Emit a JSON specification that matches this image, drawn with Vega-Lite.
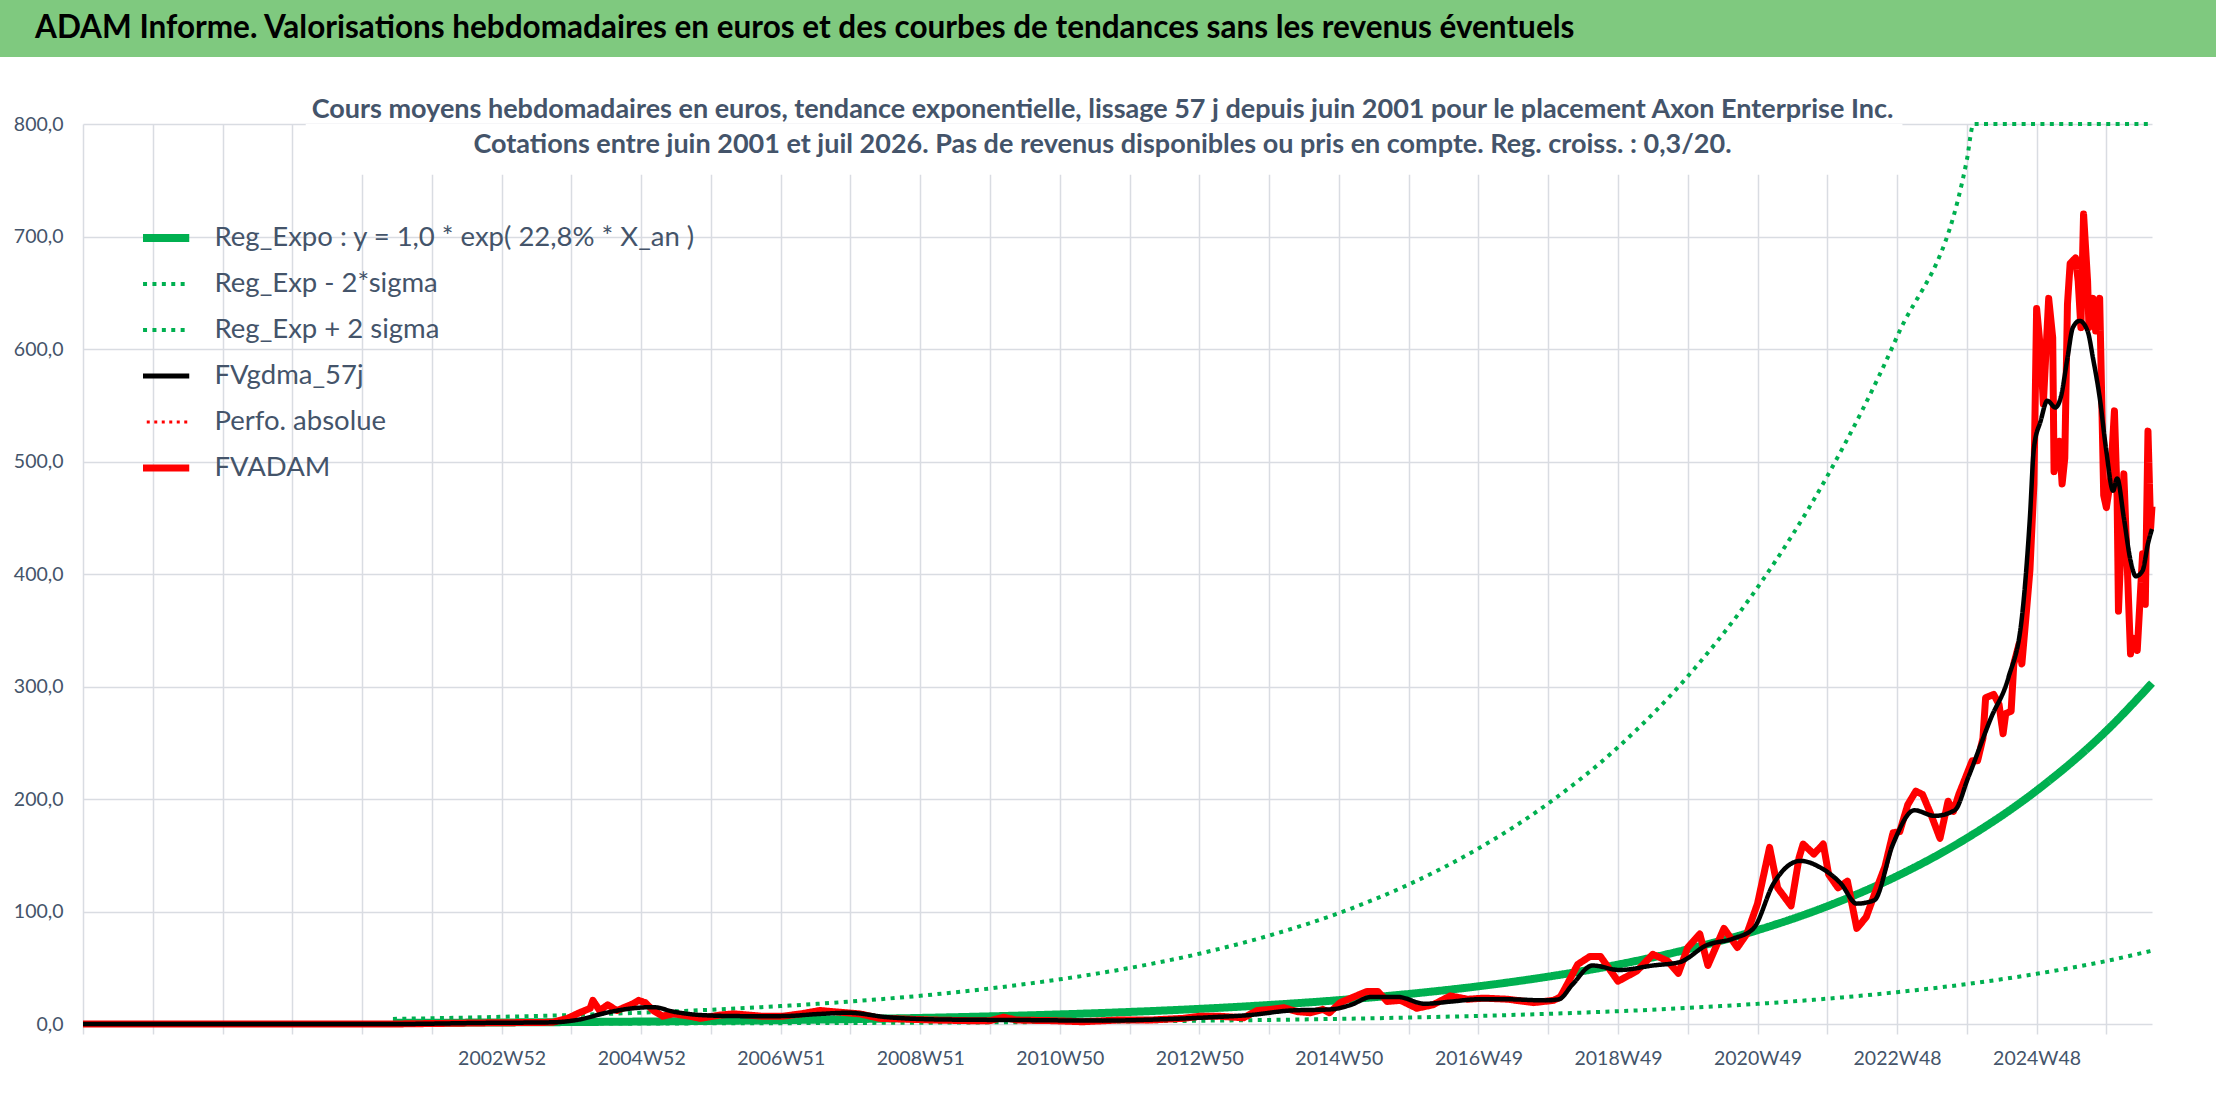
{
  "$schema": "https://vega.github.io/schema/vega-lite/v6.json",
  "padding": 0,
  "background": "white",
  "spacing": 38,
  "config": {
    "font": "Lato",
    "view": {"stroke": null},
    "axis": {
      "gridColor": "#D9DCE2",
      "gridWidth": 1.5,
      "labelColor": "#44546A",
      "labelFontSize": 19.5,
      "domain": false,
      "title": null
    }
  },
  "resolve": {"scale": {"color": "independent", "strokeDash": "independent"}},
  "datasets": {
    "tendances": [
      {"semaine": 231, "valeur": 1.0, "serie": "Reg_Expo : y = 1,0 * exp( 22,8% *  X_an )"},
      {"semaine": 260, "valeur": 1.1, "serie": "Reg_Expo : y = 1,0 * exp( 22,8% *  X_an )"},
      {"semaine": 312, "valeur": 1.38, "serie": "Reg_Expo : y = 1,0 * exp( 22,8% *  X_an )"},
      {"semaine": 364, "valeur": 1.73, "serie": "Reg_Expo : y = 1,0 * exp( 22,8% *  X_an )"},
      {"semaine": 416, "valeur": 2.17, "serie": "Reg_Expo : y = 1,0 * exp( 22,8% *  X_an )"},
      {"semaine": 468, "valeur": 2.73, "serie": "Reg_Expo : y = 1,0 * exp( 22,8% *  X_an )"},
      {"semaine": 520, "valeur": 3.43, "serie": "Reg_Expo : y = 1,0 * exp( 22,8% *  X_an )"},
      {"semaine": 572, "valeur": 4.3, "serie": "Reg_Expo : y = 1,0 * exp( 22,8% *  X_an )"},
      {"semaine": 624, "valeur": 5.4, "serie": "Reg_Expo : y = 1,0 * exp( 22,8% *  X_an )"},
      {"semaine": 676, "valeur": 6.79, "serie": "Reg_Expo : y = 1,0 * exp( 22,8% *  X_an )"},
      {"semaine": 728, "valeur": 8.53, "serie": "Reg_Expo : y = 1,0 * exp( 22,8% *  X_an )"},
      {"semaine": 780, "valeur": 10.71, "serie": "Reg_Expo : y = 1,0 * exp( 22,8% *  X_an )"},
      {"semaine": 832, "valeur": 13.45, "serie": "Reg_Expo : y = 1,0 * exp( 22,8% *  X_an )"},
      {"semaine": 884, "valeur": 16.9, "serie": "Reg_Expo : y = 1,0 * exp( 22,8% *  X_an )"},
      {"semaine": 936, "valeur": 21.2, "serie": "Reg_Expo : y = 1,0 * exp( 22,8% *  X_an )"},
      {"semaine": 988, "valeur": 26.7, "serie": "Reg_Expo : y = 1,0 * exp( 22,8% *  X_an )"},
      {"semaine": 1040, "valeur": 33.5, "serie": "Reg_Expo : y = 1,0 * exp( 22,8% *  X_an )"},
      {"semaine": 1092, "valeur": 42.1, "serie": "Reg_Expo : y = 1,0 * exp( 22,8% *  X_an )"},
      {"semaine": 1144, "valeur": 52.8, "serie": "Reg_Expo : y = 1,0 * exp( 22,8% *  X_an )"},
      {"semaine": 1196, "valeur": 66.4, "serie": "Reg_Expo : y = 1,0 * exp( 22,8% *  X_an )"},
      {"semaine": 1248, "valeur": 83.4, "serie": "Reg_Expo : y = 1,0 * exp( 22,8% *  X_an )"},
      {"semaine": 1300, "valeur": 104.7, "serie": "Reg_Expo : y = 1,0 * exp( 22,8% *  X_an )"},
      {"semaine": 1352, "valeur": 131.5, "serie": "Reg_Expo : y = 1,0 * exp( 22,8% *  X_an )"},
      {"semaine": 1404, "valeur": 165.2, "serie": "Reg_Expo : y = 1,0 * exp( 22,8% *  X_an )"},
      {"semaine": 1456, "valeur": 207.5, "serie": "Reg_Expo : y = 1,0 * exp( 22,8% *  X_an )"},
      {"semaine": 1508, "valeur": 260.6, "serie": "Reg_Expo : y = 1,0 * exp( 22,8% *  X_an )"},
      {"semaine": 1542, "valeur": 303, "serie": "Reg_Expo : y = 1,0 * exp( 22,8% *  X_an )"},
      {"semaine": 231, "valeur": 0.21, "serie": "Reg_Exp - 2*sigma"},
      {"semaine": 260, "valeur": 0.24, "serie": "Reg_Exp - 2*sigma"},
      {"semaine": 312, "valeur": 0.3, "serie": "Reg_Exp - 2*sigma"},
      {"semaine": 364, "valeur": 0.37, "serie": "Reg_Exp - 2*sigma"},
      {"semaine": 416, "valeur": 0.47, "serie": "Reg_Exp - 2*sigma"},
      {"semaine": 468, "valeur": 0.59, "serie": "Reg_Exp - 2*sigma"},
      {"semaine": 520, "valeur": 0.74, "serie": "Reg_Exp - 2*sigma"},
      {"semaine": 572, "valeur": 0.92, "serie": "Reg_Exp - 2*sigma"},
      {"semaine": 624, "valeur": 1.16, "serie": "Reg_Exp - 2*sigma"},
      {"semaine": 676, "valeur": 1.46, "serie": "Reg_Exp - 2*sigma"},
      {"semaine": 728, "valeur": 1.83, "serie": "Reg_Exp - 2*sigma"},
      {"semaine": 780, "valeur": 2.3, "serie": "Reg_Exp - 2*sigma"},
      {"semaine": 832, "valeur": 2.89, "serie": "Reg_Exp - 2*sigma"},
      {"semaine": 884, "valeur": 3.63, "serie": "Reg_Exp - 2*sigma"},
      {"semaine": 936, "valeur": 4.56, "serie": "Reg_Exp - 2*sigma"},
      {"semaine": 988, "valeur": 5.74, "serie": "Reg_Exp - 2*sigma"},
      {"semaine": 1040, "valeur": 7.2, "serie": "Reg_Exp - 2*sigma"},
      {"semaine": 1092, "valeur": 9.05, "serie": "Reg_Exp - 2*sigma"},
      {"semaine": 1144, "valeur": 11.35, "serie": "Reg_Exp - 2*sigma"},
      {"semaine": 1196, "valeur": 14.28, "serie": "Reg_Exp - 2*sigma"},
      {"semaine": 1248, "valeur": 17.9, "serie": "Reg_Exp - 2*sigma"},
      {"semaine": 1300, "valeur": 22.5, "serie": "Reg_Exp - 2*sigma"},
      {"semaine": 1352, "valeur": 28.3, "serie": "Reg_Exp - 2*sigma"},
      {"semaine": 1404, "valeur": 35.5, "serie": "Reg_Exp - 2*sigma"},
      {"semaine": 1456, "valeur": 44.6, "serie": "Reg_Exp - 2*sigma"},
      {"semaine": 1508, "valeur": 56, "serie": "Reg_Exp - 2*sigma"},
      {"semaine": 1542, "valeur": 65.2, "serie": "Reg_Exp - 2*sigma"},
      {"semaine": 231, "valeur": 4.5, "serie": "Reg_Exp + 2 sigma"},
      {"semaine": 260, "valeur": 5.1, "serie": "Reg_Exp + 2 sigma"},
      {"semaine": 312, "valeur": 6.4, "serie": "Reg_Exp + 2 sigma"},
      {"semaine": 364, "valeur": 8.0, "serie": "Reg_Exp + 2 sigma"},
      {"semaine": 416, "valeur": 10.1, "serie": "Reg_Exp + 2 sigma"},
      {"semaine": 468, "valeur": 12.7, "serie": "Reg_Exp + 2 sigma"},
      {"semaine": 520, "valeur": 15.9, "serie": "Reg_Exp + 2 sigma"},
      {"semaine": 572, "valeur": 20, "serie": "Reg_Exp + 2 sigma"},
      {"semaine": 624, "valeur": 25.1, "serie": "Reg_Exp + 2 sigma"},
      {"semaine": 676, "valeur": 31.6, "serie": "Reg_Exp + 2 sigma"},
      {"semaine": 728, "valeur": 39.7, "serie": "Reg_Exp + 2 sigma"},
      {"semaine": 780, "valeur": 49.8, "serie": "Reg_Exp + 2 sigma"},
      {"semaine": 832, "valeur": 62.5, "serie": "Reg_Exp + 2 sigma"},
      {"semaine": 884, "valeur": 78.6, "serie": "Reg_Exp + 2 sigma"},
      {"semaine": 936, "valeur": 98.6, "serie": "Reg_Exp + 2 sigma"},
      {"semaine": 988, "valeur": 124, "serie": "Reg_Exp + 2 sigma"},
      {"semaine": 1040, "valeur": 156, "serie": "Reg_Exp + 2 sigma"},
      {"semaine": 1092, "valeur": 196, "serie": "Reg_Exp + 2 sigma"},
      {"semaine": 1144, "valeur": 246, "serie": "Reg_Exp + 2 sigma"},
      {"semaine": 1196, "valeur": 309, "serie": "Reg_Exp + 2 sigma"},
      {"semaine": 1248, "valeur": 388, "serie": "Reg_Exp + 2 sigma"},
      {"semaine": 1300, "valeur": 487, "serie": "Reg_Exp + 2 sigma"},
      {"semaine": 1352, "valeur": 611, "serie": "Reg_Exp + 2 sigma"},
      {"semaine": 1404, "valeur": 768, "serie": "Reg_Exp + 2 sigma"},
      {"semaine": 1409, "valeur": 800, "serie": "Reg_Exp + 2 sigma"},
      {"semaine": 1456, "valeur": 800, "serie": "Reg_Exp + 2 sigma"},
      {"semaine": 1508, "valeur": 800, "serie": "Reg_Exp + 2 sigma"},
      {"semaine": 1540, "valeur": 800, "serie": "Reg_Exp + 2 sigma"}
    ],
    "fvadam": [
      {"semaine": 0, "valeur": 0, "serie": "FVADAM"},
      {"semaine": 231, "valeur": 0, "serie": "FVADAM"},
      {"semaine": 300, "valeur": 1, "serie": "FVADAM"},
      {"semaine": 350, "valeur": 1.5, "serie": "FVADAM"},
      {"semaine": 361, "valeur": 5, "serie": "FVADAM"},
      {"semaine": 370, "valeur": 10, "serie": "FVADAM"},
      {"semaine": 378, "valeur": 14, "serie": "FVADAM"},
      {"semaine": 380, "valeur": 21, "serie": "FVADAM"},
      {"semaine": 385, "valeur": 12, "serie": "FVADAM"},
      {"semaine": 391, "valeur": 17, "serie": "FVADAM"},
      {"semaine": 398, "valeur": 12, "serie": "FVADAM"},
      {"semaine": 406, "valeur": 16, "serie": "FVADAM"},
      {"semaine": 410, "valeur": 18, "serie": "FVADAM"},
      {"semaine": 414, "valeur": 21, "serie": "FVADAM"},
      {"semaine": 419, "valeur": 19, "serie": "FVADAM"},
      {"semaine": 425, "valeur": 12, "serie": "FVADAM"},
      {"semaine": 432, "valeur": 7, "serie": "FVADAM"},
      {"semaine": 440, "valeur": 9, "serie": "FVADAM"},
      {"semaine": 452, "valeur": 7, "serie": "FVADAM"},
      {"semaine": 460, "valeur": 5, "serie": "FVADAM"},
      {"semaine": 475, "valeur": 8, "serie": "FVADAM"},
      {"semaine": 485, "valeur": 9, "serie": "FVADAM"},
      {"semaine": 505, "valeur": 7, "serie": "FVADAM"},
      {"semaine": 522, "valeur": 7, "serie": "FVADAM"},
      {"semaine": 535, "valeur": 9, "serie": "FVADAM"},
      {"semaine": 549, "valeur": 12, "serie": "FVADAM"},
      {"semaine": 559, "valeur": 11, "serie": "FVADAM"},
      {"semaine": 569, "valeur": 10, "serie": "FVADAM"},
      {"semaine": 579, "valeur": 9, "serie": "FVADAM"},
      {"semaine": 594, "valeur": 5, "serie": "FVADAM"},
      {"semaine": 609, "valeur": 4.5, "serie": "FVADAM"},
      {"semaine": 634, "valeur": 3.5, "serie": "FVADAM"},
      {"semaine": 659, "valeur": 3, "serie": "FVADAM"},
      {"semaine": 676, "valeur": 3, "serie": "FVADAM"},
      {"semaine": 686, "valeur": 6, "serie": "FVADAM"},
      {"semaine": 696, "valeur": 3.5, "serie": "FVADAM"},
      {"semaine": 721, "valeur": 3, "serie": "FVADAM"},
      {"semaine": 745, "valeur": 2, "serie": "FVADAM"},
      {"semaine": 771, "valeur": 3.5, "serie": "FVADAM"},
      {"semaine": 795, "valeur": 3.5, "serie": "FVADAM"},
      {"semaine": 820, "valeur": 5, "serie": "FVADAM"},
      {"semaine": 833, "valeur": 7, "serie": "FVADAM"},
      {"semaine": 845, "valeur": 7, "serie": "FVADAM"},
      {"semaine": 865, "valeur": 5.5, "serie": "FVADAM"},
      {"semaine": 875, "valeur": 12, "serie": "FVADAM"},
      {"semaine": 885, "valeur": 13, "serie": "FVADAM"},
      {"semaine": 895, "valeur": 14.5, "serie": "FVADAM"},
      {"semaine": 905, "valeur": 11, "serie": "FVADAM"},
      {"semaine": 915, "valeur": 10, "serie": "FVADAM"},
      {"semaine": 924, "valeur": 13, "serie": "FVADAM"},
      {"semaine": 929, "valeur": 10, "serie": "FVADAM"},
      {"semaine": 937, "valeur": 19, "serie": "FVADAM"},
      {"semaine": 945, "valeur": 23, "serie": "FVADAM"},
      {"semaine": 957, "valeur": 29, "serie": "FVADAM"},
      {"semaine": 965, "valeur": 29, "serie": "FVADAM"},
      {"semaine": 972, "valeur": 20, "serie": "FVADAM"},
      {"semaine": 982, "valeur": 21, "serie": "FVADAM"},
      {"semaine": 994, "valeur": 14, "serie": "FVADAM"},
      {"semaine": 1006, "valeur": 17, "serie": "FVADAM"},
      {"semaine": 1019, "valeur": 25, "serie": "FVADAM"},
      {"semaine": 1032, "valeur": 22, "serie": "FVADAM"},
      {"semaine": 1044, "valeur": 23, "serie": "FVADAM"},
      {"semaine": 1062, "valeur": 22, "serie": "FVADAM"},
      {"semaine": 1081, "valeur": 19, "serie": "FVADAM"},
      {"semaine": 1096, "valeur": 21, "serie": "FVADAM"},
      {"semaine": 1101, "valeur": 24, "serie": "FVADAM"},
      {"semaine": 1106, "valeur": 35, "serie": "FVADAM"},
      {"semaine": 1114, "valeur": 53, "serie": "FVADAM"},
      {"semaine": 1123, "valeur": 60, "serie": "FVADAM"},
      {"semaine": 1131, "valeur": 60, "serie": "FVADAM"},
      {"semaine": 1144, "valeur": 38, "serie": "FVADAM"},
      {"semaine": 1158, "valeur": 47, "serie": "FVADAM"},
      {"semaine": 1170, "valeur": 62, "serie": "FVADAM"},
      {"semaine": 1181, "valeur": 56, "serie": "FVADAM"},
      {"semaine": 1189, "valeur": 45, "serie": "FVADAM"},
      {"semaine": 1196, "valeur": 68, "serie": "FVADAM"},
      {"semaine": 1205, "valeur": 80, "serie": "FVADAM"},
      {"semaine": 1211, "valeur": 52, "serie": "FVADAM"},
      {"semaine": 1223, "valeur": 85, "serie": "FVADAM"},
      {"semaine": 1233, "valeur": 68, "serie": "FVADAM"},
      {"semaine": 1240, "valeur": 80, "serie": "FVADAM"},
      {"semaine": 1248, "valeur": 107, "serie": "FVADAM"},
      {"semaine": 1257, "valeur": 157, "serie": "FVADAM"},
      {"semaine": 1263, "valeur": 121, "serie": "FVADAM"},
      {"semaine": 1273, "valeur": 105, "serie": "FVADAM"},
      {"semaine": 1279, "valeur": 148, "serie": "FVADAM"},
      {"semaine": 1282, "valeur": 160, "serie": "FVADAM"},
      {"semaine": 1290, "valeur": 151, "serie": "FVADAM"},
      {"semaine": 1297, "valeur": 160, "serie": "FVADAM"},
      {"semaine": 1301, "valeur": 133, "serie": "FVADAM"},
      {"semaine": 1308, "valeur": 121, "serie": "FVADAM"},
      {"semaine": 1315, "valeur": 127, "serie": "FVADAM"},
      {"semaine": 1322, "valeur": 85, "serie": "FVADAM"},
      {"semaine": 1329, "valeur": 95, "serie": "FVADAM"},
      {"semaine": 1336, "valeur": 118, "serie": "FVADAM"},
      {"semaine": 1343, "valeur": 140, "serie": "FVADAM"},
      {"semaine": 1349, "valeur": 170, "serie": "FVADAM"},
      {"semaine": 1354, "valeur": 171, "serie": "FVADAM"},
      {"semaine": 1360, "valeur": 195, "serie": "FVADAM"},
      {"semaine": 1366, "valeur": 207, "serie": "FVADAM"},
      {"semaine": 1371, "valeur": 204, "serie": "FVADAM"},
      {"semaine": 1377, "valeur": 187, "serie": "FVADAM"},
      {"semaine": 1384, "valeur": 165, "serie": "FVADAM"},
      {"semaine": 1390, "valeur": 198, "serie": "FVADAM"},
      {"semaine": 1394, "valeur": 189, "serie": "FVADAM"},
      {"semaine": 1398, "valeur": 204, "serie": "FVADAM"},
      {"semaine": 1405, "valeur": 225, "serie": "FVADAM"},
      {"semaine": 1408, "valeur": 234, "serie": "FVADAM"},
      {"semaine": 1412, "valeur": 234, "serie": "FVADAM"},
      {"semaine": 1416, "valeur": 254, "serie": "FVADAM"},
      {"semaine": 1418, "valeur": 290, "serie": "FVADAM"},
      {"semaine": 1424, "valeur": 293, "serie": "FVADAM"},
      {"semaine": 1428, "valeur": 284, "serie": "FVADAM"},
      {"semaine": 1431, "valeur": 258, "serie": "FVADAM"},
      {"semaine": 1433, "valeur": 276, "serie": "FVADAM"},
      {"semaine": 1437, "valeur": 278, "serie": "FVADAM"},
      {"semaine": 1439, "valeur": 320, "serie": "FVADAM"},
      {"semaine": 1443, "valeur": 338, "serie": "FVADAM"},
      {"semaine": 1445, "valeur": 320, "serie": "FVADAM"},
      {"semaine": 1448, "valeur": 361, "serie": "FVADAM"},
      {"semaine": 1451, "valeur": 403, "serie": "FVADAM"},
      {"semaine": 1454, "valeur": 480, "serie": "FVADAM"},
      {"semaine": 1456, "valeur": 636, "serie": "FVADAM"},
      {"semaine": 1459, "valeur": 598, "serie": "FVADAM"},
      {"semaine": 1461, "valeur": 551, "serie": "FVADAM"},
      {"semaine": 1465, "valeur": 645, "serie": "FVADAM"},
      {"semaine": 1468, "valeur": 610, "serie": "FVADAM"},
      {"semaine": 1469, "valeur": 491, "serie": "FVADAM"},
      {"semaine": 1473, "valeur": 518, "serie": "FVADAM"},
      {"semaine": 1475, "valeur": 480, "serie": "FVADAM"},
      {"semaine": 1477, "valeur": 503, "serie": "FVADAM"},
      {"semaine": 1479, "valeur": 640, "serie": "FVADAM"},
      {"semaine": 1481, "valeur": 676, "serie": "FVADAM"},
      {"semaine": 1485, "valeur": 681, "serie": "FVADAM"},
      {"semaine": 1487, "valeur": 660, "serie": "FVADAM"},
      {"semaine": 1489, "valeur": 619, "serie": "FVADAM"},
      {"semaine": 1491, "valeur": 720, "serie": "FVADAM"},
      {"semaine": 1494, "valeur": 660, "serie": "FVADAM"},
      {"semaine": 1495, "valeur": 619, "serie": "FVADAM"},
      {"semaine": 1498, "valeur": 645, "serie": "FVADAM"},
      {"semaine": 1500, "valeur": 616, "serie": "FVADAM"},
      {"semaine": 1503, "valeur": 645, "serie": "FVADAM"},
      {"semaine": 1506, "valeur": 470, "serie": "FVADAM"},
      {"semaine": 1508, "valeur": 459, "serie": "FVADAM"},
      {"semaine": 1511, "valeur": 483, "serie": "FVADAM"},
      {"semaine": 1514, "valeur": 545, "serie": "FVADAM"},
      {"semaine": 1516, "valeur": 468, "serie": "FVADAM"},
      {"semaine": 1517, "valeur": 367, "serie": "FVADAM"},
      {"semaine": 1521, "valeur": 489, "serie": "FVADAM"},
      {"semaine": 1526, "valeur": 329, "serie": "FVADAM"},
      {"semaine": 1528, "valeur": 343, "serie": "FVADAM"},
      {"semaine": 1531, "valeur": 332, "serie": "FVADAM"},
      {"semaine": 1535, "valeur": 418, "serie": "FVADAM"},
      {"semaine": 1537, "valeur": 373, "serie": "FVADAM"},
      {"semaine": 1539, "valeur": 527, "serie": "FVADAM"},
      {"semaine": 1541, "valeur": 441, "serie": "FVADAM"},
      {"semaine": 1542, "valeur": 460, "serie": "FVADAM"}
    ],
    "fvgdma": [
      {"semaine": 0, "valeur": 0, "serie": "FVgdma_57j"},
      {"semaine": 231, "valeur": 0, "serie": "FVgdma_57j"},
      {"semaine": 300, "valeur": 1, "serie": "FVgdma_57j"},
      {"semaine": 350, "valeur": 1.5, "serie": "FVgdma_57j"},
      {"semaine": 370, "valeur": 4, "serie": "FVgdma_57j"},
      {"semaine": 390, "valeur": 10, "serie": "FVgdma_57j"},
      {"semaine": 410, "valeur": 14, "serie": "FVgdma_57j"},
      {"semaine": 425, "valeur": 15, "serie": "FVgdma_57j"},
      {"semaine": 440, "valeur": 11, "serie": "FVgdma_57j"},
      {"semaine": 460, "valeur": 8, "serie": "FVgdma_57j"},
      {"semaine": 490, "valeur": 7, "serie": "FVgdma_57j"},
      {"semaine": 520, "valeur": 7, "serie": "FVgdma_57j"},
      {"semaine": 550, "valeur": 9, "serie": "FVgdma_57j"},
      {"semaine": 570, "valeur": 10, "serie": "FVgdma_57j"},
      {"semaine": 600, "valeur": 6, "serie": "FVgdma_57j"},
      {"semaine": 640, "valeur": 4, "serie": "FVgdma_57j"},
      {"semaine": 700, "valeur": 3.5, "serie": "FVgdma_57j"},
      {"semaine": 760, "valeur": 3, "serie": "FVgdma_57j"},
      {"semaine": 800, "valeur": 4, "serie": "FVgdma_57j"},
      {"semaine": 840, "valeur": 6, "serie": "FVgdma_57j"},
      {"semaine": 870, "valeur": 8, "serie": "FVgdma_57j"},
      {"semaine": 900, "valeur": 12, "serie": "FVgdma_57j"},
      {"semaine": 930, "valeur": 13, "serie": "FVgdma_57j"},
      {"semaine": 945, "valeur": 17, "serie": "FVgdma_57j"},
      {"semaine": 960, "valeur": 24, "serie": "FVgdma_57j"},
      {"semaine": 980, "valeur": 24, "serie": "FVgdma_57j"},
      {"semaine": 1000, "valeur": 18, "serie": "FVgdma_57j"},
      {"semaine": 1020, "valeur": 20, "serie": "FVgdma_57j"},
      {"semaine": 1040, "valeur": 22, "serie": "FVgdma_57j"},
      {"semaine": 1060, "valeur": 22, "serie": "FVgdma_57j"},
      {"semaine": 1090, "valeur": 21, "serie": "FVgdma_57j"},
      {"semaine": 1100, "valeur": 22, "serie": "FVgdma_57j"},
      {"semaine": 1110, "valeur": 35, "serie": "FVgdma_57j"},
      {"semaine": 1125, "valeur": 52, "serie": "FVgdma_57j"},
      {"semaine": 1145, "valeur": 48, "serie": "FVgdma_57j"},
      {"semaine": 1170, "valeur": 52, "serie": "FVgdma_57j"},
      {"semaine": 1190, "valeur": 55, "serie": "FVgdma_57j"},
      {"semaine": 1210, "valeur": 70, "serie": "FVgdma_57j"},
      {"semaine": 1230, "valeur": 76, "serie": "FVgdma_57j"},
      {"semaine": 1245, "valeur": 85, "serie": "FVgdma_57j"},
      {"semaine": 1260, "valeur": 125, "serie": "FVgdma_57j"},
      {"semaine": 1280, "valeur": 145, "serie": "FVgdma_57j"},
      {"semaine": 1295, "valeur": 139, "serie": "FVgdma_57j"},
      {"semaine": 1310, "valeur": 125, "serie": "FVgdma_57j"},
      {"semaine": 1322, "valeur": 107, "serie": "FVgdma_57j"},
      {"semaine": 1335, "valeur": 110, "serie": "FVgdma_57j"},
      {"semaine": 1349, "valeur": 160, "serie": "FVgdma_57j"},
      {"semaine": 1365, "valeur": 190, "serie": "FVgdma_57j"},
      {"semaine": 1380, "valeur": 185, "serie": "FVgdma_57j"},
      {"semaine": 1395, "valeur": 190, "serie": "FVgdma_57j"},
      {"semaine": 1405, "valeur": 219, "serie": "FVgdma_57j"},
      {"semaine": 1422, "valeur": 272, "serie": "FVgdma_57j"},
      {"semaine": 1435, "valeur": 308, "serie": "FVgdma_57j"},
      {"semaine": 1445, "valeur": 361, "serie": "FVgdma_57j"},
      {"semaine": 1451, "valeur": 450, "serie": "FVgdma_57j"},
      {"semaine": 1454, "valeur": 512, "serie": "FVgdma_57j"},
      {"semaine": 1459, "valeur": 536, "serie": "FVgdma_57j"},
      {"semaine": 1464, "valeur": 554, "serie": "FVgdma_57j"},
      {"semaine": 1470, "valeur": 548, "serie": "FVgdma_57j"},
      {"semaine": 1474, "valeur": 557, "serie": "FVgdma_57j"},
      {"semaine": 1479, "valeur": 592, "serie": "FVgdma_57j"},
      {"semaine": 1483, "valeur": 619, "serie": "FVgdma_57j"},
      {"semaine": 1488, "valeur": 625, "serie": "FVgdma_57j"},
      {"semaine": 1494, "valeur": 616, "serie": "FVgdma_57j"},
      {"semaine": 1498, "valeur": 592, "serie": "FVgdma_57j"},
      {"semaine": 1503, "valeur": 557, "serie": "FVgdma_57j"},
      {"semaine": 1508, "valeur": 509, "serie": "FVgdma_57j"},
      {"semaine": 1513, "valeur": 474, "serie": "FVgdma_57j"},
      {"semaine": 1516, "valeur": 485, "serie": "FVgdma_57j"},
      {"semaine": 1521, "valeur": 450, "serie": "FVgdma_57j"},
      {"semaine": 1526, "valeur": 412, "serie": "FVgdma_57j"},
      {"semaine": 1530, "valeur": 398, "serie": "FVgdma_57j"},
      {"semaine": 1535, "valeur": 403, "serie": "FVgdma_57j"},
      {"semaine": 1539, "valeur": 427, "serie": "FVgdma_57j"},
      {"semaine": 1542, "valeur": 440, "serie": "FVgdma_57j"}
    ]
  },
  "vconcat": [
    {
      "width": 2133,
      "height": 57,
      "data": {"values": [{"texte": "ADAM Informe. Valorisations hebdomadaires en euros et des courbes de tendances sans les revenus éventuels"}]},
      "encoding": {
        "x": {"datum": 0, "type": "quantitative", "scale": {"domain": [83, 2216], "nice": false, "zero": false}, "axis": null},
        "y": {"datum": 0, "type": "quantitative", "scale": {"domain": [0, 1], "nice": false}, "axis": null}
      },
      "layer": [
        {
          "mark": {"type": "rect", "color": "#7FC97F"},
          "encoding": {
            "x2": {"datum": 2216},
            "y2": {"datum": 1}
          }
        },
        {
          "mark": {"type": "text", "align": "left", "baseline": "middle", "fontSize": 31.5, "fontWeight": "bold", "color": "#000000"},
          "encoding": {
            "text": {"field": "texte", "type": "nominal"},
            "x": {"datum": 35, "type": "quantitative"},
            "y": {"datum": 0.5, "type": "quantitative"}
          }
        }
      ]
    },
    {
      "width": 2069,
      "height": 900,
      "title": {
        "text": [
          "Cours moyens hebdomadaires en euros, tendance exponentielle, lissage 57 j depuis juin 2001 pour le placement Axon Enterprise Inc.",
          "Cotations entre juin 2001 et juil 2026. Pas de revenus disponibles ou pris en compte. Reg. croiss. : 0,3/20."
        ],
        "anchor": "middle",
        "frame": "group",
        "offset": -44.5,
        "dx": -15,
        "fontSize": 27,
        "fontWeight": "bold",
        "color": "#44546A",
        "lineHeight": 35
      },
      "layer": [
        {
          "data": {"values": [{}]},
          "mark": {"type": "rect", "color": "#FFFFFF"},
          "encoding": {
            "x": {
              "datum": 166,
              "type": "quantitative",
              "scale": {"domain": [0, 1542], "nice": false, "zero": false},
              "axis": {
                "values": [0, 52, 104, 156, 208, 260, 312, 364, 416, 468, 520, 572, 624, 676, 728, 780, 832, 884, 936, 988, 1040, 1092, 1144, 1196, 1248, 1300, 1352, 1404, 1456, 1508],
                "labelExpr": "['','','','','','','2002W52','','2004W52','','2006W51','','2008W51','','2010W50','','2012W50','','2014W50','','2016W49','','2018W49','','2020W49','','2022W48','','2024W48',''][round(datum.value / 52)]",
                "grid": true,
                "ticks": true,
                "tickSize": 10,
                "tickColor": "#D9DCE2",
                "tickWidth": 1.5,
                "labelPadding": 15,
                "labelOverlap": false,
                "labelFlush": false,
                "title": null
              }
            },
            "x2": {"datum": 1356},
            "y": {
              "datum": 800,
              "type": "quantitative",
              "scale": {"domain": [0, 800], "nice": false, "zero": true},
              "axis": {
                "values": [0, 100, 200, 300, 400, 500, 600, 700, 800],
                "labelExpr": "replace(format(datum.value, '.1f'), '.', ',')",
                "ticks": false,
                "grid": true,
                "labelPadding": 20,
                "minExtent": 83,
                "maxExtent": 83,
                "title": null
              }
            },
            "y2": {"datum": 755}
          }
        },
        {
          "encoding": {
            "x": {"field": "semaine", "type": "quantitative"},
            "y": {"field": "valeur", "type": "quantitative"},
            "color": {
              "field": "serie",
              "type": "nominal",
              "scale": {
                "domain": ["Reg_Expo : y = 1,0 * exp( 22,8% *  X_an )", "Reg_Exp - 2*sigma", "Reg_Exp + 2 sigma", "FVgdma_57j", "Perfo. absolue", "FVADAM"],
                "range": ["#00B050", "#00B050", "#00B050", "#000000", "#FF0000", "#FF0000"]
              },
              "legend": {
                "title": null,
                "orient": "none",
                "legendX": 60,
                "legendY": 94,
                "symbolType": "stroke",
                "symbolSize": 4225,
                "symbolStrokeWidth": {"expr": "datum.value == 'FVADAM' ? 7 : datum.value == 'FVgdma_57j' ? 5 : datum.value == 'Perfo. absolue' ? 3 : datum.value == 'Reg_Exp - 2*sigma' ? 4 : datum.value == 'Reg_Exp + 2 sigma' ? 4 : 8"},
                "clipHeight": 40,
                "rowPadding": 6,
                "labelFontSize": 27.5,
                "labelColor": "#44546A",
                "labelOffset": 44,
                "labelLimit": 900,
                "padding": 0
              }
            },
            "strokeDash": {
              "field": "serie",
              "type": "nominal",
              "scale": {
                "domain": ["Reg_Expo : y = 1,0 * exp( 22,8% *  X_an )", "Reg_Exp - 2*sigma", "Reg_Exp + 2 sigma", "FVgdma_57j", "Perfo. absolue", "FVADAM"],
                "range": [[1, 0], [4, 5.4], [4, 5.4], [1, 0], [3, 4.5], [1, 0]]
              },
              "legend": {
                "title": null,
                "orient": "none",
                "legendX": 60,
                "legendY": 94,
                "symbolType": "stroke",
                "symbolSize": 4225,
                "symbolStrokeWidth": {"expr": "datum.value == 'FVADAM' ? 7 : datum.value == 'FVgdma_57j' ? 5 : datum.value == 'Perfo. absolue' ? 3 : datum.value == 'Reg_Exp - 2*sigma' ? 4 : datum.value == 'Reg_Exp + 2 sigma' ? 4 : 8"},
                "clipHeight": 40,
                "rowPadding": 6,
                "labelFontSize": 27.5,
                "labelColor": "#44546A",
                "labelOffset": 44,
                "labelLimit": 900,
                "padding": 0
              }
            }
          },
          "layer": [
            {
              "data": {"name": "tendances"},
              "transform": [{"filter": "datum.serie == 'Reg_Exp - 2*sigma'"}],
              "mark": {"type": "line", "interpolate": "monotone", "strokeWidth": 4, "strokeCap": "butt", "clip": false}
            },
            {
              "data": {"name": "tendances"},
              "transform": [{"filter": "datum.serie == 'Reg_Exp + 2 sigma'"}],
              "mark": {"type": "line", "interpolate": "monotone", "strokeWidth": 4, "strokeCap": "butt", "clip": false}
            },
            {
              "data": {"name": "tendances"},
              "transform": [{"filter": "datum.serie != 'Reg_Exp - 2*sigma' && datum.serie != 'Reg_Exp + 2 sigma'"}],
              "mark": {"type": "line", "interpolate": "monotone", "strokeWidth": 8, "strokeCap": "butt", "clip": false}
            },
            {
              "data": {"name": "fvadam"},
              "mark": {"type": "line", "strokeWidth": 7, "strokeCap": "butt", "strokeJoin": "round", "clip": false}
            },
            {
              "data": {"name": "fvgdma"},
              "mark": {"type": "line", "interpolate": "monotone", "strokeWidth": 4.5, "strokeCap": "butt", "clip": false}
            }
          ]
        }
      ]
    }
  ]
}
